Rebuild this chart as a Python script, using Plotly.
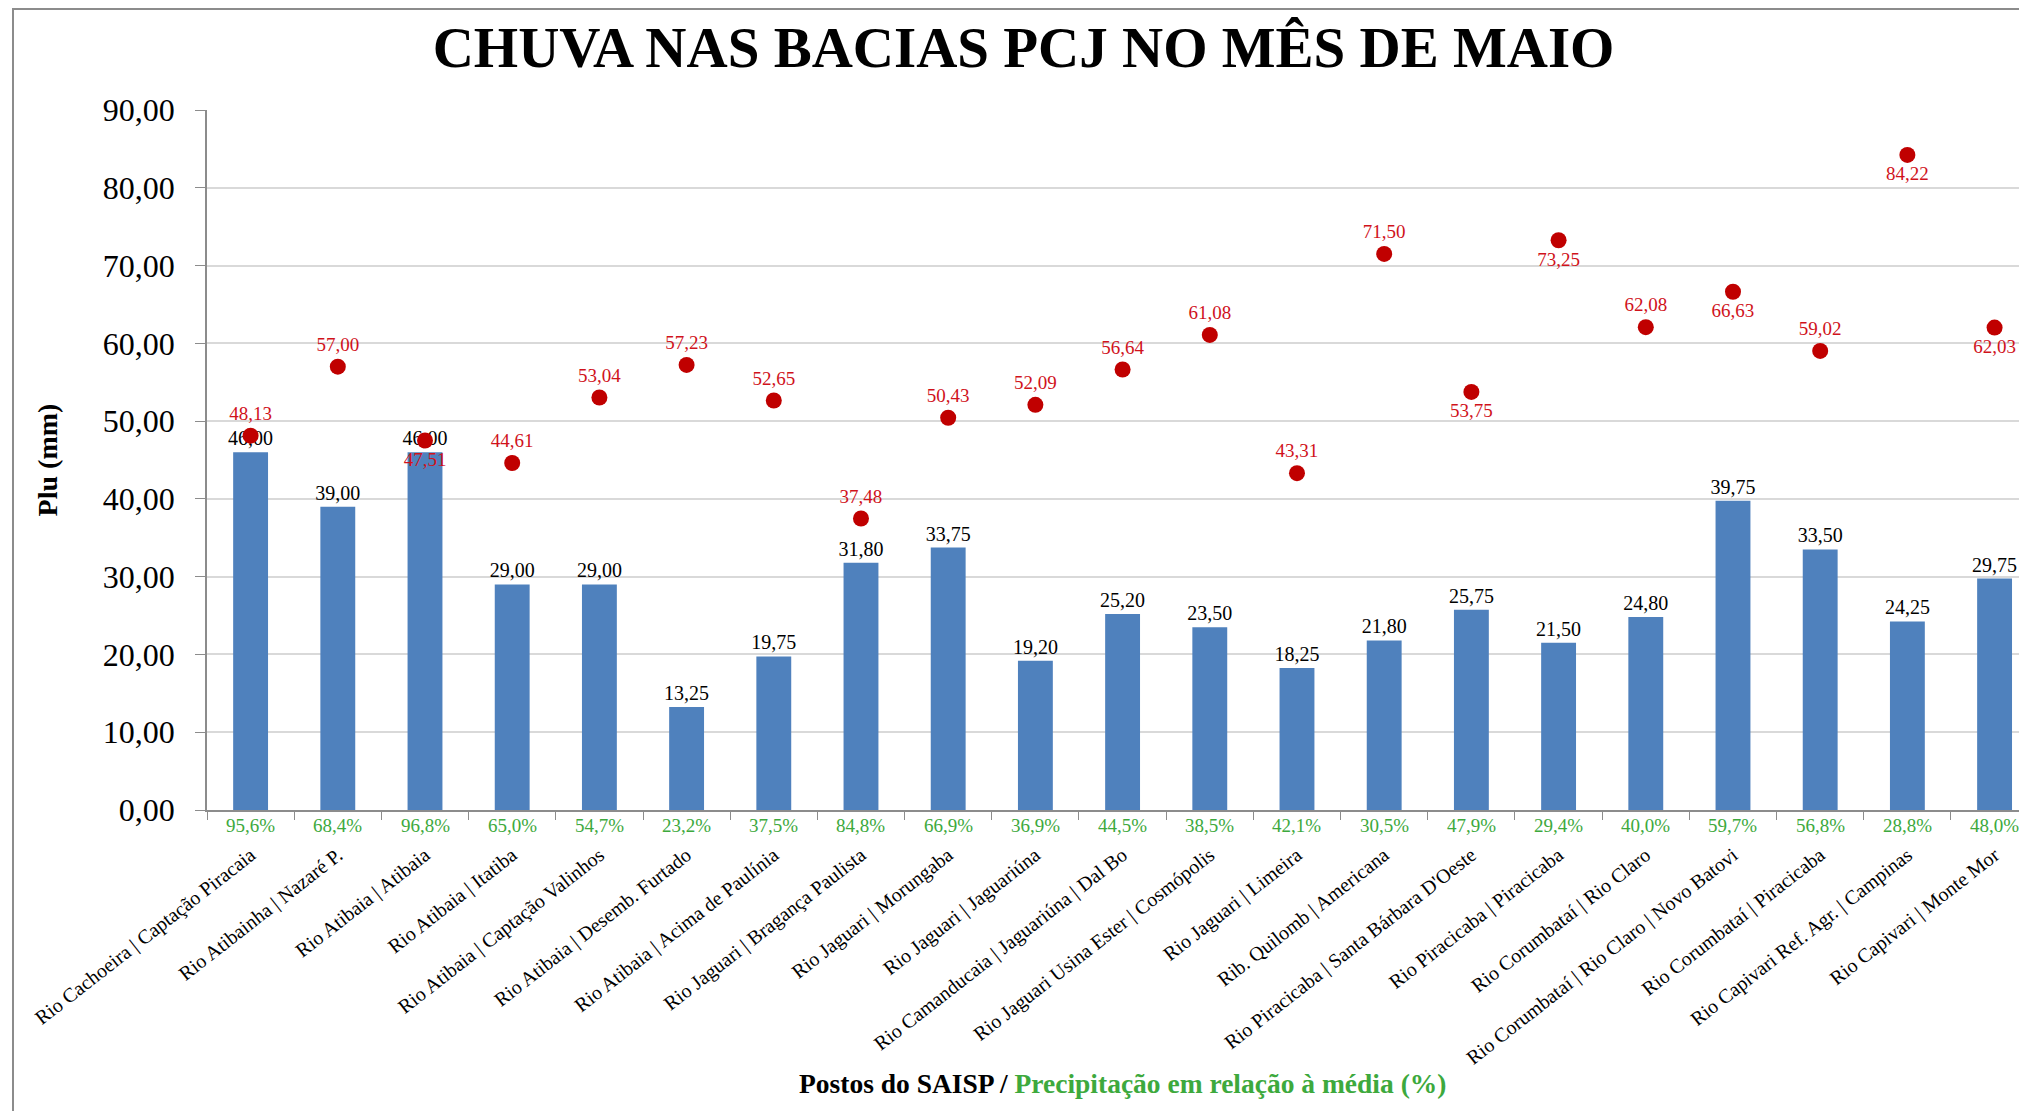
import plotly.graph_objects as go

categories = [
    "Rio Cachoeira | Captação Piracaia",
    "Rio Atibainha | Nazaré P.",
    "Rio Atibaia | Atibaia",
    "Rio Atibaia | Itatiba",
    "Rio Atibaia | Captação Valinhos",
    "Rio Atibaia | Desemb. Furtado",
    "Rio Atibaia | Acima de Paulínia",
    "Rio Jaguari | Bragança Paulista",
    "Rio Jaguari | Morungaba",
    "Rio Jaguari | Jaguariúna",
    "Rio Camanducaia | Jaguariúna | Dal Bo",
    "Rio Jaguari Usina Ester | Cosmópolis",
    "Rio Jaguari | Limeira",
    "Rib. Quilomb | Americana",
    "Rio Piracicaba | Santa Bárbara D'Oeste",
    "Rio Piracicaba | Piracicaba",
    "Rio Corumbataí | Rio Claro",
    "Rio Corumbataí | Rio Claro | Novo Batovi",
    "Rio Corumbataí | Piracicaba",
    "Rio Capivari Ref. Agr. | Campinas",
    "Rio Capivari | Monte Mor",
]

chuva_mm = [46.00, 39.00, 46.00, 29.00, 29.00, 13.25, 19.75, 31.80, 33.75, 19.20,
            25.20, 23.50, 18.25, 21.80, 25.75, 21.50, 24.80, 39.75, 33.50, 24.25, 29.75]

media_mm = [48.13, 57.00, 47.51, 44.61, 53.04, 57.23, 52.65, 37.48, 50.43, 52.09,
            56.64, 61.08, 43.31, 71.50, 53.75, 73.25, 62.08, 66.63, 59.02, 84.22, 62.03]

media_label_pos = ["top center", "top center", "bottom center", "top center", "top center",
                   "top center", "top center", "top center", "top center", "top center",
                   "top center", "top center", "top center", "top center", "bottom center",
                   "bottom center", "top center", "bottom center", "top center",
                   "bottom center", "bottom center"]

percent_labels = ["95,6%", "68,4%", "96,8%", "65,0%", "54,7%", "23,2%", "37,5%", "84,8%",
                  "66,9%", "36,9%", "44,5%", "38,5%", "42,1%", "30,5%", "47,9%", "29,4%",
                  "40,0%", "59,7%", "56,8%", "28,8%", "48,0%"]

y_ticks = [0, 10, 20, 30, 40, 50, 60, 70, 80, 90]

SERIF = "Liberation Serif, Times New Roman, serif"
GREEN = "#3DA93D"
RED_DOT = "#C00000"
RED_TXT = "#D0121B"

# page body has an 8px margin: figure is sized/offset to fit the window
W, H = 2011, 1103
L, T, B_ = 199, 102, 802          # plot area left, top, bottom (figure px)
PH = B_ - T

fig = go.Figure()

fig.add_trace(go.Bar(
    x=categories, y=chuva_mm,
    marker=dict(color="#4F81BD", line=dict(width=0)),
    width=0.4,
    texttemplate="%{y:.2f}", textposition="outside", constraintext="none",
    textfont=dict(family=SERIF, size=20, color="black"),
    cliponaxis=False, showlegend=False,
))

fig.add_trace(go.Scatter(
    x=categories, y=media_mm, mode="markers+text",
    marker=dict(color=RED_DOT, size=16),
    text=[f"{v:.2f}".replace(".", ",") for v in media_mm],
    textposition=media_label_pos,
    textfont=dict(family=SERIF, size=19, color=RED_TXT),
    cliponaxis=False, showlegend=False,
))

for c, p in zip(categories, percent_labels):
    fig.add_annotation(x=c, y=0, xref="x", yref="y", text=p, showarrow=False,
                       yanchor="top", yshift=-3,
                       font=dict(family=SERIF, size=19, color=GREEN))

fig.add_annotation(
    xref="paper", yref="paper", x=0.505, y=(B_ - 1075) / PH, yanchor="middle",
    text="<b>Postos do SAISP / </b><b><span style='color:%s'>Precipitação em relação à média (%%)</span></b>" % GREEN,
    showarrow=False, font=dict(family=SERIF, size=27.5, color="black"))

fig.add_shape(type="rect", xref="paper", yref="paper",
              x0=(5 - L) / (W - L), x1=1.2, y0=-0.6, y1=(B_ - 1) / PH,
              line=dict(color="#8C8C8C", width=2), fillcolor="rgba(0,0,0,0)", layer="below")

fig.update_layout(
    width=W, height=H,
    margin=dict(l=L, r=0, t=T, b=H - B_),
    paper_bgcolor="white", plot_bgcolor="white",
    separators=",.",
    title=dict(text="<b>CHUVA NAS BACIAS PCJ NO MÊS DE MAIO</b>",
               x=0.505, xanchor="center", y=1 - 39 / H, yanchor="middle",
               font=dict(family=SERIF, size=57, color="black")),
    xaxis=dict(
        type="category", range=[-0.5, 20.28],
        tickmode="array", tickvals=categories, ticktext=categories,
        tickangle=-38, tickson="boundaries", ticks="outside", ticklen=8,
        tickcolor="#8C8C8C", ticklabelstandoff=24,
        tickfont=dict(family=SERIF, size=20, color="black"),
        showline=True, linecolor="#8C8C8C", linewidth=1.5,
        showgrid=False, automargin=False,
    ),
    yaxis=dict(
        range=[0, 90], tickvals=y_ticks, tickformat=".2f",
        ticks="outside", ticklen=10, tickcolor="#8C8C8C",
        ticklabelstandoff=14,
        tickfont=dict(family=SERIF, size=32, color="black"),
        showline=True, linecolor="#8C8C8C", linewidth=1.5,
        showgrid=True, gridcolor="#D9D9D9", gridwidth=1.5,
        zeroline=False, automargin=False,
        title=dict(text="<b>Plu (mm)</b>", standoff=37,
                   font=dict(family=SERIF, size=28, color="black")),
    ),
)

fig.write_html("out.html")
